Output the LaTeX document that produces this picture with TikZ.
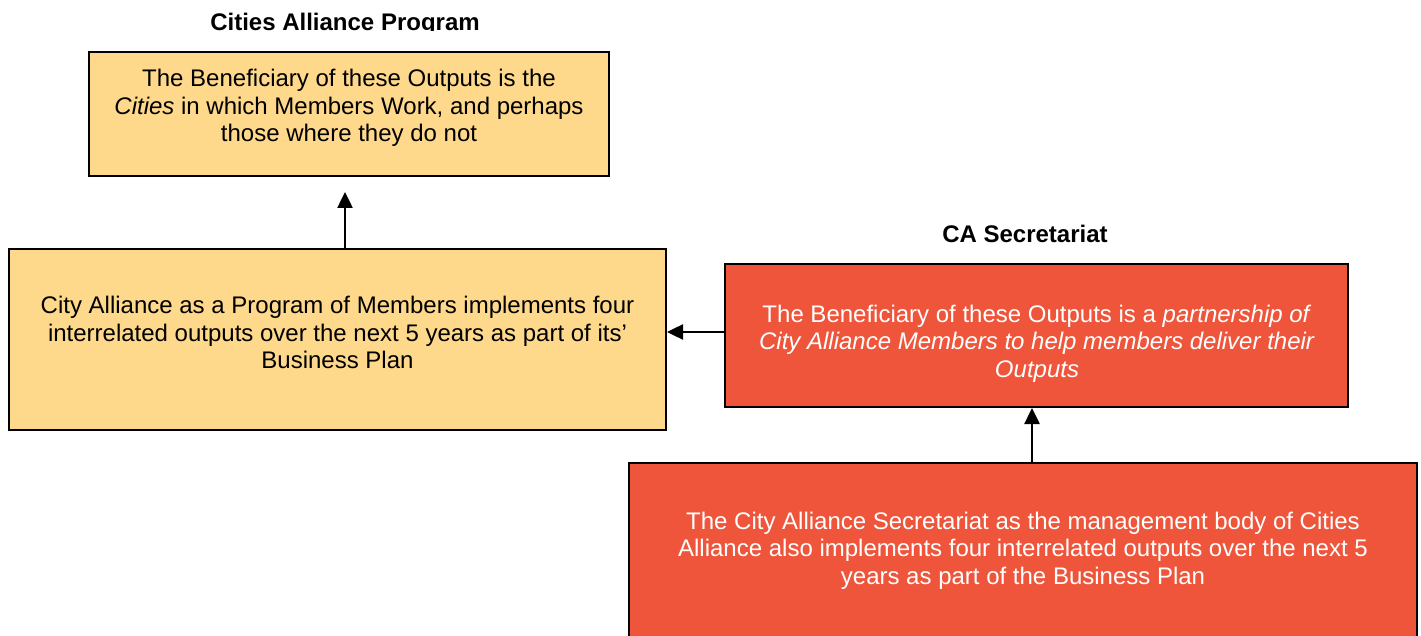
\documentclass[tikz,border=0pt]{standalone}
\usepackage{fontspec}
\setmainfont{Liberation Sans}
\usetikzlibrary{arrows.meta}
\definecolor{boxyellow}{RGB}{254,216,139}
\definecolor{boxred}{RGB}{238,85,59}
\begin{document}
\begin{tikzpicture}[x=1pt,y=-1pt,
  box/.style={draw=black,line width=2pt,inner sep=0pt},
  ybox/.style={box,fill=boxyellow},
  rbox/.style={box,fill=boxred},
  txt/.style={align=center,inner sep=0pt,font=\fontsize{24}{27.5}\selectfont},
  heading/.style={inner sep=0pt,font=\fontsize{24}{27.5}\selectfont\bfseries},
  arr/.style={line width=2.5pt,-{Triangle[length=16pt,width=15pt]}}]
\useasboundingbox (0,0) rectangle (1421,636);
\clip (0,0) rectangle (1421,636);
\fill[white] (0,0) rectangle (1421,636);

% programme side
\begin{scope}
  \clip (0,0) rectangle (700,31);
  \node[heading] (progtitle) at (345,24) {Cities Alliance Program};
\end{scope}
\node[ybox,minimum width=520,minimum height=124] (a) at (349,114) {};
\node[txt] (atext) at (349,108) {The Beneficiary of these Outputs is the\\
  \textit{Cities} in which Members Work, and perhaps\\
  those where they do not};

\node[ybox,minimum width=657,minimum height=181] (b) at (337.5,339.5) {};
\node[txt] (btext) at (337.5,332.5) {City Alliance as a Program of Members implements four\\
  interrelated outputs over the next 5 years as part of its'\\
  Business Plan};

% secretariat side
\node[heading] (sectitle) at (1025,234) {CA Secretariat};
\node[rbox,minimum width=623,minimum height=143] (c) at (1036.5,335.5) {};
\node[txt,text=white] (ctext) at (1037,343.5) {The Beneficiary of these Outputs is a \textit{partnership of}\\
  \textit{City Alliance Members to help members deliver their}\\
  \textit{Outputs}};

\node[rbox,minimum width=788,minimum height=260] (d) at (1023,593) {};
\node[txt,text=white] (dtext) at (1023,550.5) {The City Alliance Secretariat as the management body of Cities\\
  Alliance also implements four interrelated outputs over the next 5\\
  years as part of the Business Plan};

% connectors
\coordinate (abx) at (345,0);
\coordinate (bcy) at (0,332);
\coordinate (cdx) at (1032,0);
\draw[arr,shorten >=15pt] (b.north -| abx) -- (a.south -| abx);
\draw[arr] (c.west |- bcy) -- (b.east |- bcy);
\draw[arr] (d.north -| cdx) -- (c.south -| cdx);
\end{tikzpicture}
\end{document}
